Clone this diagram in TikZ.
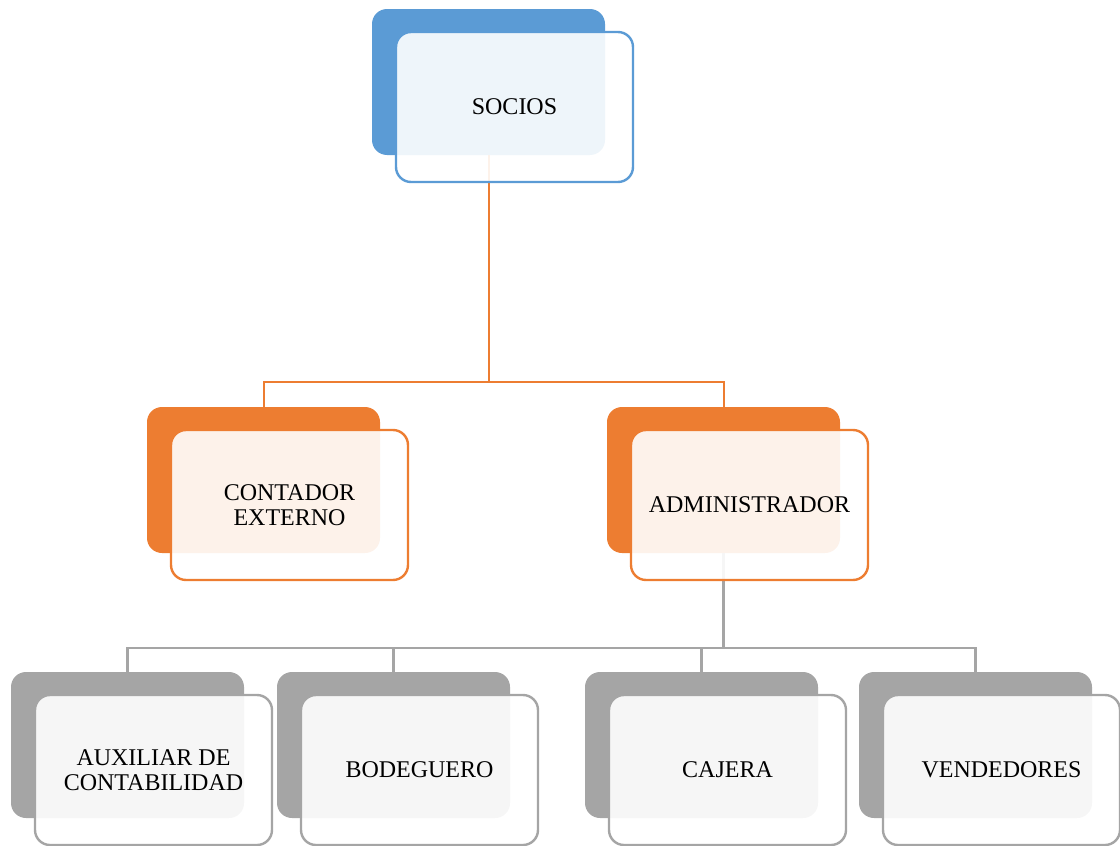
\documentclass[tikz,border=0pt]{standalone}
\usepackage{fontspec}
\setmainfont{Liberation Serif}
\usetikzlibrary{calc, positioning}

\definecolor{socblue}{HTML}{5B9BD5}
\definecolor{mgrorange}{HTML}{ED7D31}
\definecolor{staffgray}{HTML}{A5A5A5}

\begin{document}
\begin{tikzpicture}[
    x=0.5pt, y=-0.5pt,
    back/.style={rounded corners=7.5pt, minimum width=116.5pt, minimum height=73pt, inner sep=0pt},
    front/.style={draw, line width=1.2pt, rounded corners=7.5pt, fill=white, fill opacity=0.9,
        text opacity=1, minimum width=118.5pt, minimum height=75pt, inner sep=0pt,
        align=center, font=\fontsize{12pt}{12.5pt}\selectfont},
    link/.style={line width=1pt}
]
\def\dx{26}
\def\dy{25}

\useasboundingbox (0,0) rectangle (1120,846);

% Back cards
\node[back, fill=socblue] (socB) at (488.5,82) {};
\node[back, fill=mgrorange] (contB) at (263.5,480) {};
\node[back, fill=mgrorange] (admB) at (723.5,480) {};
\node[back, fill=staffgray] (auxB) at (127.5,745) {};
\node[back, fill=staffgray] (bodB) at (393.5,745) {};
\node[back, fill=staffgray] (cajB) at (701.5,745) {};
\node[back, fill=staffgray] (venB) at (975.5,745) {};

% Connectors
\coordinate (busTop) at (488.5,382);
\coordinate (busLow) at (723.5,648);
\draw[link, mgrorange] (socB.south) -- (busTop);
\draw[link, mgrorange] (busTop) -| (contB.north);
\draw[link, mgrorange] (busTop) -| (admB.north);
\draw[link, staffgray, line width=1.4pt] (admB.south) -- (busLow);
\foreach \n in {auxB, bodB, cajB, venB}
    \draw[link, staffgray, line width=1.4pt] (busLow) -| (\n.north);

% Front cards
\node[front, draw=socblue] (soc) at ($(socB)+(\dx,\dy)$) {SOCIOS};
\node[front, draw=mgrorange] (cont) at ($(contB)+(\dx,\dy)$) {CONTADOR\\EXTERNO};
\node[front, draw=mgrorange] (adm) at ($(admB)+(\dx,\dy)$) {ADMINISTRADOR};
\node[front, draw=staffgray] (aux) at ($(auxB)+(\dx,\dy)$) {AUXILIAR DE\\CONTABILIDAD};
\node[front, draw=staffgray] (bod) at ($(bodB)+(\dx,\dy)$) {BODEGUERO};
\node[front, draw=staffgray] (caj) at ($(cajB)+(\dx,\dy)$) {CAJERA};
\node[front, draw=staffgray] (ven) at ($(venB)+(\dx,\dy)$) {VENDEDORES};
\end{tikzpicture}
\end{document}
